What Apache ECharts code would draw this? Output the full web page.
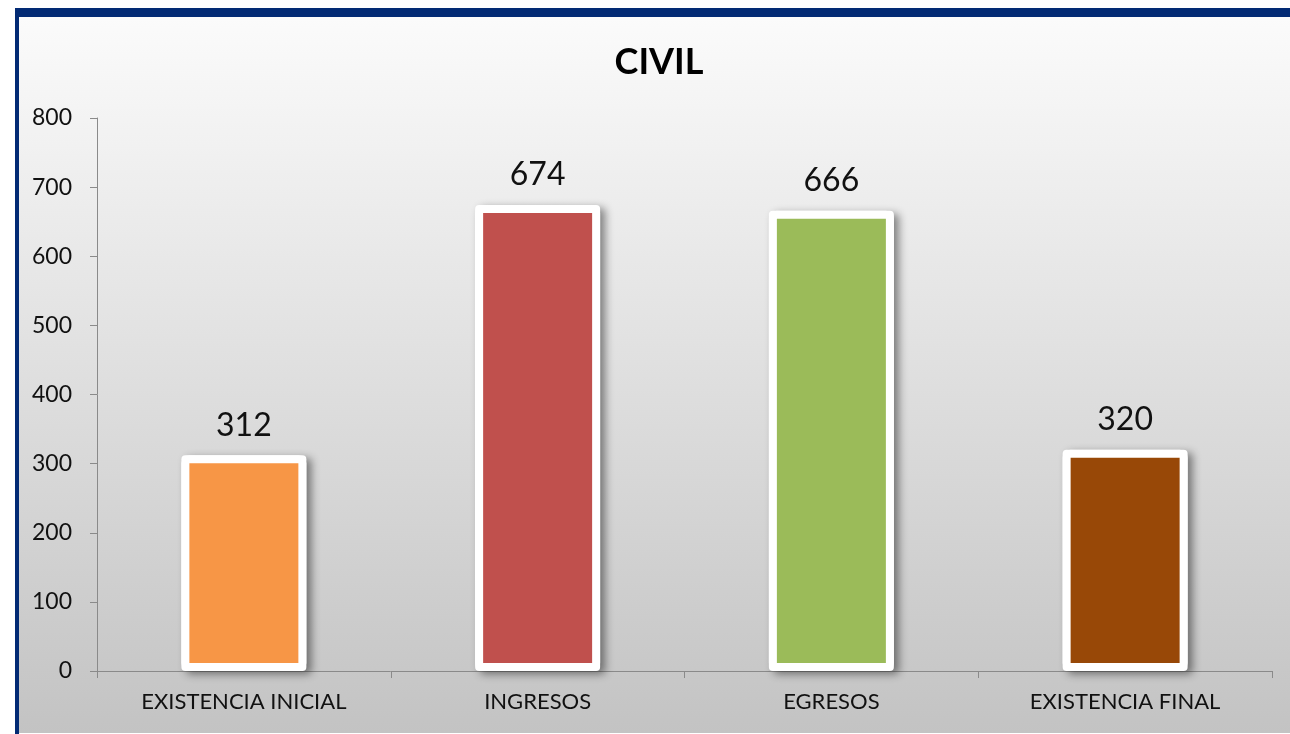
<!DOCTYPE html>
<html>
<head>
<meta charset="UTF-8">
<title>CIVIL</title>
<script type="text/javascript" src="https://cdn.jsdelivr.net/npm/echarts@6/dist/echarts.min.js"></script>
<style>
	html, body { margin: 0; padding: 0; background: #ffffff; overflow: hidden; }
	#frame {
		position: absolute; left: 15px; top: 8px; width: 1290px; height: 724px;
		border-top: 9px solid #022a74; border-left: 4px solid #022a74;
		border-bottom: 1px solid #a9aebb;
	}
	#main { position: absolute; left: 19px; top: 17px; width: 1271px; height: 716px; }
</style>
</head>
<body>
	<div id="frame"></div>
	<div id="main"></div>
</body>
<script type="text/javascript">
var categories = ['EXISTENCIA INICIAL', 'INGRESOS', 'EGRESOS', 'EXISTENCIA FINAL'];
var values = [312, 674, 666, 320];
var yTicks = [0, 100, 200, 300, 400, 500, 600, 700, 800];

var barColors = ['#f79646', '#c0504d', '#9bbb59', '#984807'];
var font = 'Lato, "Open Sans", sans-serif';

chart();

function chart(){
	var myChart = echarts.init(document.getElementById('main'));

	var data = [];
	for (var i = 0; i < values.length; i++) {
		data.push({
			value: values[i],
			itemStyle: { color: barColors[i] }
		});
	}

	var option = {
		backgroundColor: {
			type: 'linear', x: 0, y: 0, x2: 0, y2: 1,
			colorStops: [
				{ offset: 0, color: '#fbfbfb' },
				{ offset: 1, color: '#c3c3c3' }
			]
		},
		animation: false,
		title: {
			text: 'CIVIL',
			left: 635,
			textAlign: 'center',
			top: 22,
			textStyle: { fontFamily: font, fontSize: 36, fontWeight: 'bold', color: '#000000' }
		},
		grid: { left: 78, right: 18, top: 101, bottom: 62 },
		xAxis: {
			type: 'category',
			data: categories,
			axisLine: { lineStyle: { color: '#8a8a8a', width: 1 } },
			axisTick: { show: true, length: 7, lineStyle: { color: '#8a8a8a' } },
			axisLabel: { margin: 20, color: '#111111', fontFamily: font, fontSize: 22 }
		},
		yAxis: {
			type: 'value',
			min: yTicks[0],
			max: yTicks[yTicks.length - 1],
			interval: yTicks[1] - yTicks[0],
			axisLine: { show: true, lineStyle: { color: '#8a8a8a', width: 1 } },
			axisTick: { show: true, length: 7, lineStyle: { color: '#8a8a8a' } },
			splitLine: { show: false },
			axisLabel: { margin: 25, color: '#111111', fontFamily: font, fontSize: 23 }
		},
		series: [
			{
				// white frame that casts the shadow
				type: 'bar',
				data: values,
				barWidth: 125,
				silent: true,
				itemStyle: {
					color: '#ffffff',
					borderRadius: 4,
					shadowColor: 'rgba(0, 0, 0, 0.45)',
					shadowBlur: 8,
					shadowOffsetX: 5,
					shadowOffsetY: 3
				}
			},
			{
				type: 'bar',
				data: data,
				barWidth: 125,
				barGap: '-100%',
				itemStyle: {
					borderColor: '#ffffff',
					borderWidth: 8,
					borderRadius: 4
				},
				label: {
					show: true,
					position: 'top',
					distance: 14,
					color: '#111111',
					fontFamily: font,
					fontSize: 32
				}
			}
		]
	};
	myChart.setOption(option);
}
</script>
</html>
